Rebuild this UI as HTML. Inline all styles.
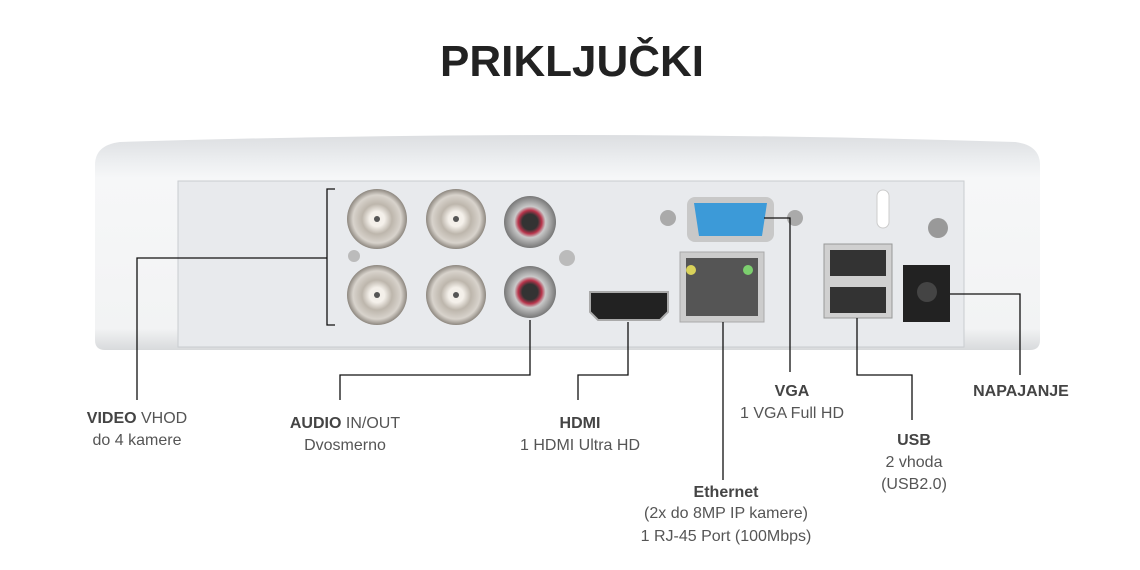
<!DOCTYPE html>
<html><head><meta charset="utf-8"><style>
html,body{margin:0;padding:0;background:#fff}
svg{display:block}
text{font-family:"Liberation Sans",sans-serif;fill:#555;font-size:16px}
.b{font-weight:bold;fill:#444}
</style></head><body>
<svg width="1140" height="570" viewBox="0 0 1140 570">
<defs>
<linearGradient id="body" x1="0" y1="0" x2="0" y2="1">
<stop offset="0" stop-color="#dcdee1"/><stop offset="0.12" stop-color="#eceef0"/><stop offset="0.2" stop-color="#f6f7f8"/><stop offset="0.9" stop-color="#f2f3f4"/><stop offset="1" stop-color="#d8dadc"/>
</linearGradient>
<radialGradient id="bnc"><stop offset="0.25" stop-color="#f4f0ea"/><stop offset="0.5" stop-color="#bdb6ac"/><stop offset="0.8" stop-color="#d8d3cc"/><stop offset="1" stop-color="#8d877f"/></radialGradient>
<radialGradient id="rca"><stop offset="0.3" stop-color="#333"/><stop offset="0.45" stop-color="#b8334a"/><stop offset="0.6" stop-color="#c9c9c9"/><stop offset="1" stop-color="#777"/></radialGradient>
</defs>
<text x="572" y="76" text-anchor="middle" style="font-size:44px;font-weight:bold;fill:#222">PRIKLJUČKI</text>
<path d="M95,165 Q95,145 120,142 Q570,128 1015,142 Q1040,145 1040,165 L1040,340 Q1040,350 1030,350 L105,350 Q95,350 95,340 Z" fill="url(#body)"/>
<rect x="178" y="181" width="786" height="166" fill="#e8eaed" stroke="#c9ccd0"/>
<g>
<circle cx="377" cy="219" r="30" fill="url(#bnc)"/><circle cx="456" cy="219" r="30" fill="url(#bnc)"/>
<circle cx="377" cy="295" r="30" fill="url(#bnc)"/><circle cx="456" cy="295" r="30" fill="url(#bnc)"/>
<circle cx="377" cy="219" r="3" fill="#555"/><circle cx="456" cy="219" r="3" fill="#555"/>
<circle cx="377" cy="295" r="3" fill="#555"/><circle cx="456" cy="295" r="3" fill="#555"/>
</g>
<circle cx="530" cy="222" r="26" fill="url(#rca)"/><circle cx="530" cy="292" r="26" fill="url(#rca)"/>
<circle cx="567" cy="258" r="8" fill="#bbb"/><circle cx="354" cy="256" r="6" fill="#bbb"/>
<path d="M590,292 L668,292 L668,312 L660,320 L598,320 L590,312 Z" fill="#222" stroke="#aaa" stroke-width="2"/>
<rect x="680" y="252" width="84" height="70" fill="#ccc" stroke="#aaa"/>
<rect x="686" y="258" width="72" height="58" fill="#555"/>
<circle cx="691" cy="270" r="5" fill="#d9d25a"/><circle cx="748" cy="270" r="5" fill="#7ccf6e"/>
<circle cx="668" cy="218" r="8" fill="#aaa"/><circle cx="795" cy="218" r="8" fill="#aaa"/>
<rect x="687" y="197" width="87" height="45" rx="8" fill="#c8c8c8"/>
<path d="M694,203 L767,203 L762,236 L699,236 Z" fill="#3c9ad8"/>
<rect x="824" y="244" width="68" height="74" fill="#d0d0d0" stroke="#999"/>
<rect x="830" y="250" width="56" height="26" fill="#333"/><rect x="830" y="287" width="56" height="26" fill="#333"/>
<rect x="877" y="190" width="12" height="38" rx="6" fill="#fff" stroke="#ccc"/>
<circle cx="938" cy="228" r="10" fill="#999"/>
<rect x="903" y="265" width="47" height="57" fill="#222"/><circle cx="927" cy="292" r="10" fill="#444"/>
<g stroke="#111" stroke-width="1.3" fill="none">
<path d="M137,400 L137,258 L327,258"/>
<path d="M335,189 L327,189 L327,325 L335,325"/>
<path d="M340,400 L340,375 L530,375 L530,320"/>
<path d="M578,400 L578,375 L628,375 L628,322"/>
<path d="M723,322 L723,480"/>
<path d="M764,218 L790,218 L790,372"/>
<path d="M857,318 L857,375 L912,375 L912,420"/>
<path d="M950,294 L1020,294 L1020,375"/>
</g>
<text x="137" y="423" text-anchor="middle"><tspan class="b">VIDEO</tspan> VHOD</text>
<text x="137" y="445" text-anchor="middle">do 4 kamere</text>
<text x="345" y="428" text-anchor="middle"><tspan class="b">AUDIO</tspan> IN/OUT</text>
<text x="345" y="450" text-anchor="middle">Dvosmerno</text>
<text x="580" y="428" text-anchor="middle" class="b">HDMI</text>
<text x="580" y="450" text-anchor="middle">1 HDMI Ultra HD</text>
<text x="726" y="497" text-anchor="middle" class="b">Ethernet</text>
<text x="726" y="518" text-anchor="middle">(2x do 8MP IP kamere)</text>
<text x="726" y="541" text-anchor="middle">1 RJ-45 Port (100Mbps)</text>
<text x="792" y="396" text-anchor="middle" class="b">VGA</text>
<text x="792" y="418" text-anchor="middle">1 VGA Full HD</text>
<text x="914" y="445" text-anchor="middle" class="b">USB</text>
<text x="914" y="467" text-anchor="middle">2 vhoda</text>
<text x="914" y="489" text-anchor="middle">(USB2.0)</text>
<text x="1021" y="396" text-anchor="middle" class="b">NAPAJANJE</text>
</svg>
</body></html>
